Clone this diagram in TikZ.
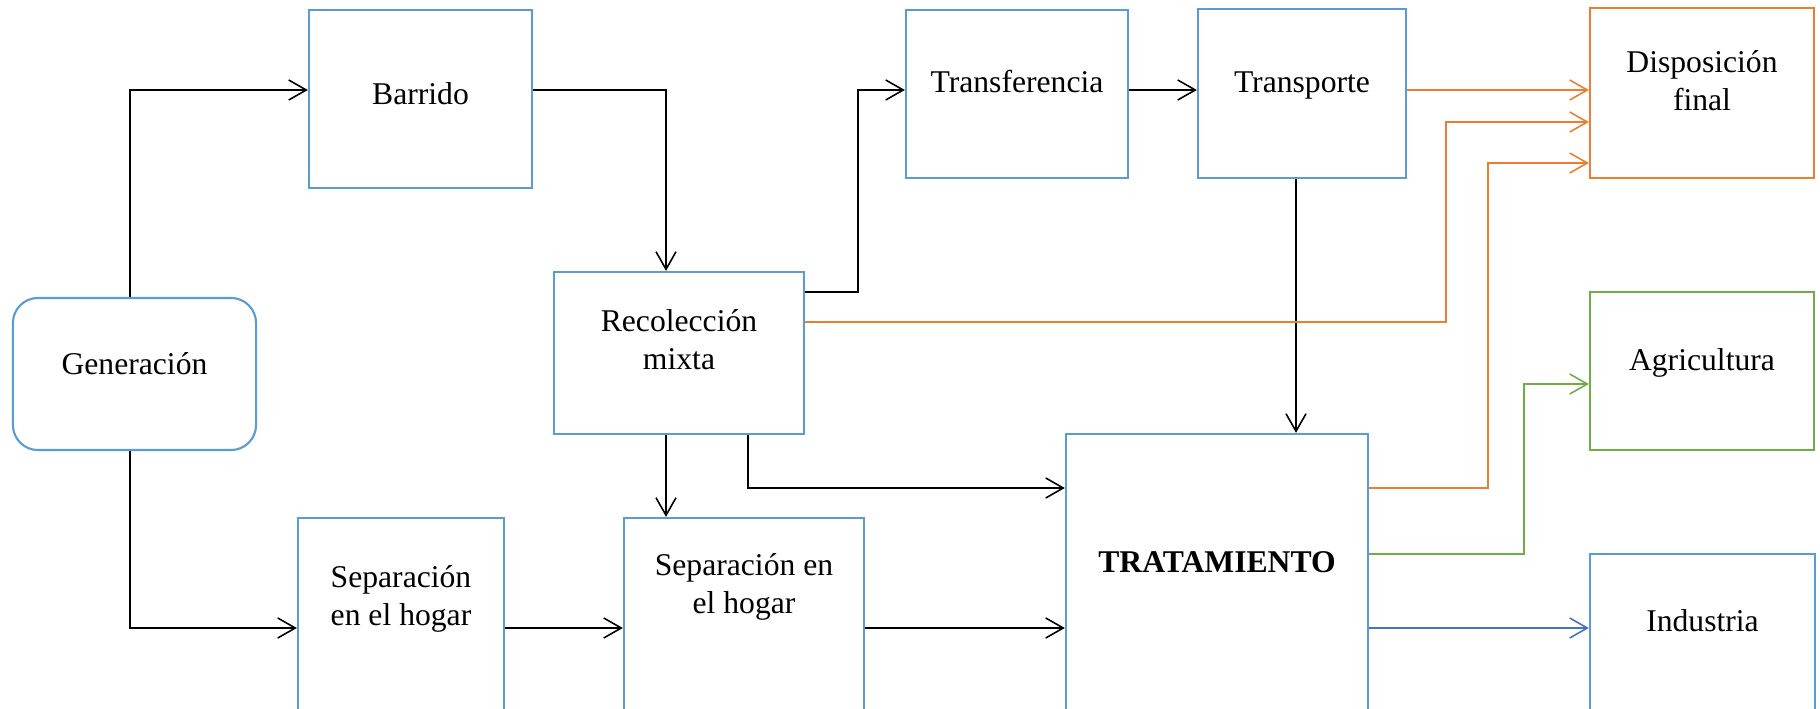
\documentclass[tikz,border=0pt]{standalone}
\usepackage{fontspec}
\setmainfont{Liberation Serif}
\usetikzlibrary{arrows.meta}
\definecolor{cajaazul}{HTML}{5B9BD5}
\definecolor{naranja}{HTML}{ED7D31}
\definecolor{verde}{HTML}{70AD47}
\definecolor{azulflecha}{HTML}{4472C4}
\begin{document}
\begin{tikzpicture}[x=0.01cm,y=-0.01cm,
        caja/.style={draw=cajaazul,line width=0.6pt,inner sep=0pt},
        txt/.style={font=\fontsize{9}{10.8}\selectfont,align=center,inner sep=0pt},
        flecha/.style={line width=0.45pt,-{Straight Barb[length=5pt,width=5.7pt]}}]
        \useasboundingbox (0,0) rectangle (1820,709);

        % ===== cajas =====
        \node[caja,rounded corners=0.25cm,minimum width=2.43cm,minimum height=1.52cm] (gen) at (134.5,374) {};
        \node[caja,minimum width=2.23cm,minimum height=1.78cm] (barrido) at (420.5,99) {};
        \node[caja,minimum width=2.50cm,minimum height=1.62cm] (recol) at (679,353) {};
        \node[caja,minimum width=2.22cm,minimum height=1.68cm] (transf) at (1017,94) {};
        \node[caja,minimum width=2.08cm,minimum height=1.69cm] (transp) at (1302,93.5) {};
        \node[caja,minimum width=2.06cm,minimum height=1.94cm] (sep1) at (401,615) {};
        \node[caja,minimum width=2.40cm,minimum height=1.94cm] (sep2) at (744,615) {};
        \node[caja,minimum width=3.02cm,minimum height=2.78cm] (trat) at (1217,573) {};

        % destinos
        \node[caja,draw=naranja,minimum width=2.24cm,minimum height=1.70cm] (disp) at (1702,93) {};
        \node[caja,draw=verde,minimum width=2.24cm,minimum height=1.58cm] (agri) at (1702,371) {};
        \node[caja,minimum width=2.25cm,minimum height=1.58cm] (indus) at (1702.5,633) {};

        % ===== textos =====
        \node[txt,anchor=base] (gen-t) at (gen |- 0,374) {Generación};
        \node[txt,anchor=base] (barrido-t) at (barrido |- 0,104) {Barrido};
        \node[txt] (recol-t) at (recol |- 0,340) {Recolección\\mixta};
        \node[txt,anchor=base] (transf-t) at (transf |- 0,93) {Transferencia};
        \node[txt,anchor=base] (transp-t) at (transp |- 0,93) {Transporte};
        \node[txt] (sep1-t) at (sep1 |- 0,599) {Separación\\en el hogar};
        \node[txt] (sep2-t) at (sep2 |- 0,587) {Separación en\\el hogar};
        \node[txt,anchor=base] (trat-t) at (trat |- 0,572) {\textbf{TRATAMIENTO}};
        \node[txt] (disp-t) at (disp |- 0,81) {Disposición\\final};
        \node[txt,anchor=base] (agri-t) at (agri |- 0,370) {Agricultura};
        \node[txt,anchor=base] (indus-t) at (indus |- 0,631) {Industria};

        % ===== conectores negros =====
        \draw[flecha] (gen.north -| 130,0) |- (barrido.west |- 0,90);
        \draw[flecha] (barrido.east |- 0,90) -| (recol.north -| 666,0);
        \draw[flecha] (recol.east |- 0,292) -- (858,292) |- (transf.west |- 0,90);
        \draw[flecha] (transf.east |- 0,90) -- (transp.west |- 0,90);
        \draw[flecha] (transp.south -| 1296,0) -- (trat.north -| 1296,0);
        \draw[flecha] (recol.south -| 666,0) -- (sep2.north -| 666,0);
        \draw[flecha] (recol.south -| 748,0) |- (trat.west |- 0,488);
        \draw[flecha] (gen.south -| 130,0) |- (sep1.west |- 0,628);
        \draw[flecha] (sep1.east |- 0,628) -- (sep2.west |- 0,628);
        \draw[flecha] (sep2.east |- 0,628) -- (trat.west |- 0,628);

        % ===== salidas de color =====
        \draw[flecha,naranja] (transp.east |- 0,90) -- (disp.west |- 0,90);
        \draw[flecha,naranja] (recol.east |- 0,322) -- (1446,322) |- (disp.west |- 0,122);
        \draw[flecha,naranja] (trat.east |- 0,488) -- (1488,488) |- (disp.west |- 0,163);
        \draw[flecha,verde] (trat.east |- 0,554) -- (1524,554) |- (agri.west |- 0,384);
        \draw[flecha,azulflecha] (trat.east |- 0,628) -- (indus.west |- 0,628);
\end{tikzpicture}
\end{document}
